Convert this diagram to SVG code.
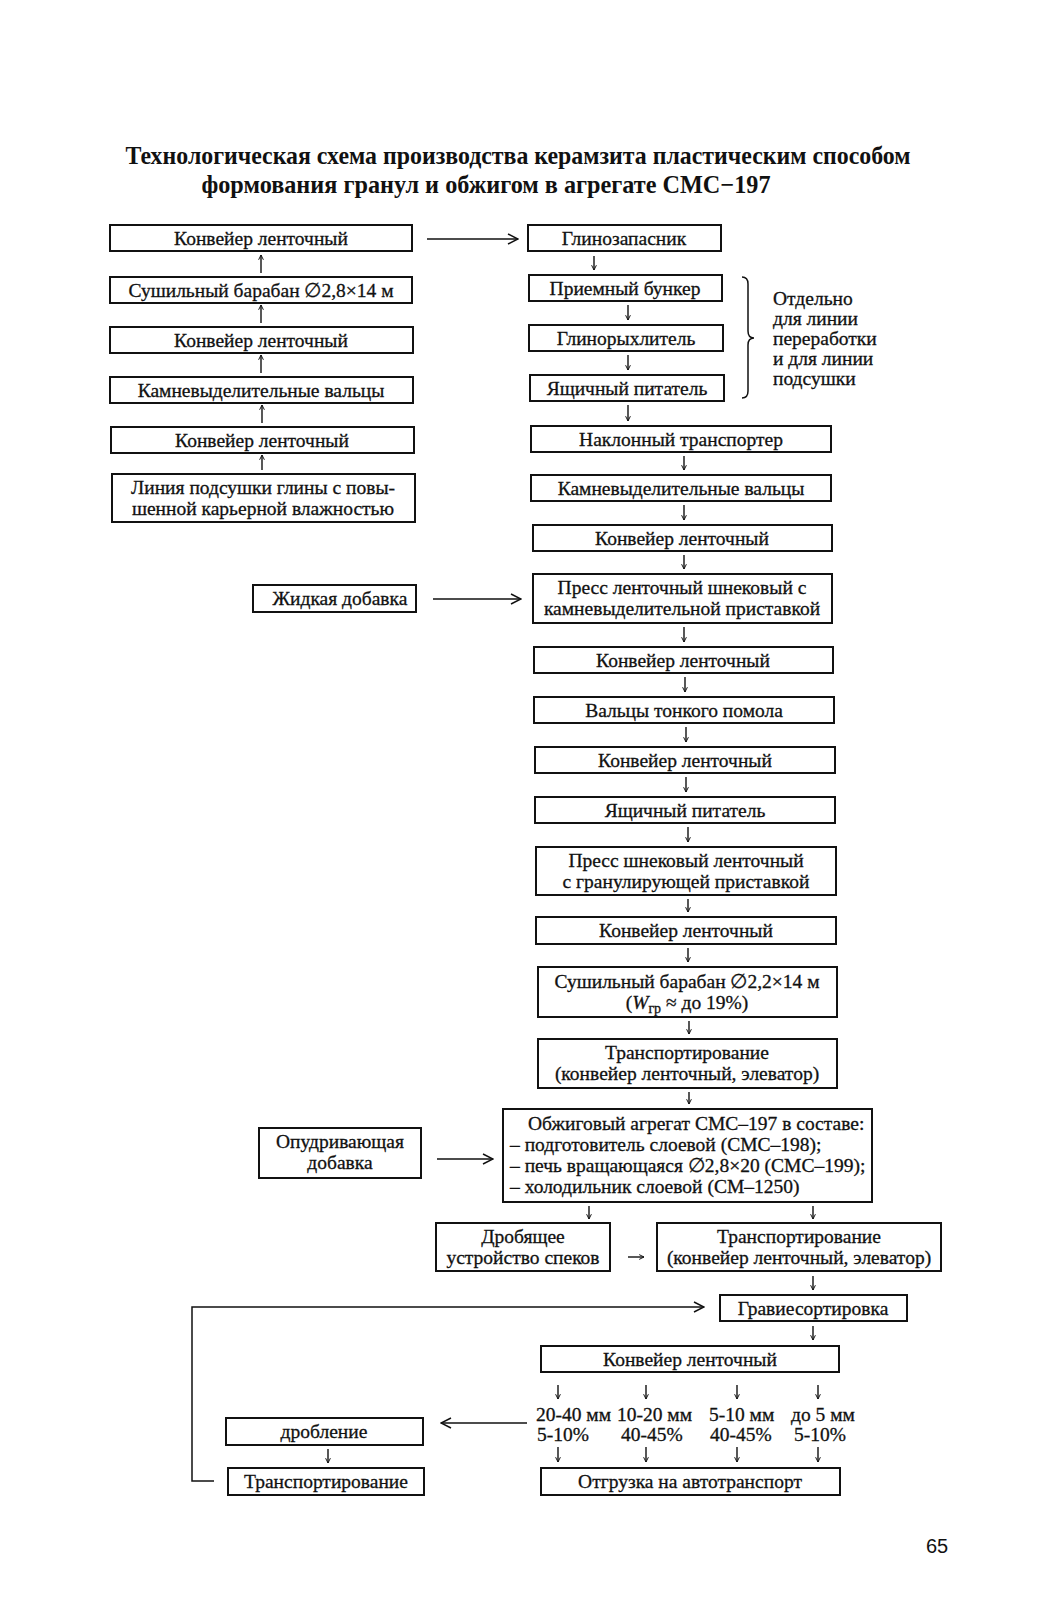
<svg xmlns="http://www.w3.org/2000/svg" width="1062" height="1600" viewBox="0 0 1062 1600">
<defs>
<style>
.b{fill:none;stroke:#111;stroke-width:2}
.t{font-family:"Liberation Serif","Times New Roman",serif;font-size:19.5px;fill:#111;stroke:#111;stroke-width:0.3;text-anchor:middle}
.l{font-family:"Liberation Serif","Times New Roman",serif;font-size:19.5px;fill:#111;stroke:#111;stroke-width:0.3}
.h{font-family:"Liberation Serif","Times New Roman",serif;font-size:25px;font-weight:bold;fill:#111;text-anchor:middle}
.c{fill:none;stroke:#111;stroke-width:1.5}
.s{fill:none;stroke:#111;stroke-width:1.4;marker-end:url(#sm)}
.a{fill:none;stroke:#111;stroke-width:1.5;marker-end:url(#lg)}
</style>
<marker id="sm" viewBox="0 0 10 10" refX="9" refY="5" markerWidth="6" markerHeight="6" markerUnits="userSpaceOnUse" orient="auto"><path d="M1,1 L9,5 L1,9" fill="none" stroke="#111" stroke-width="1.6"/></marker>
<marker id="lg" viewBox="0 0 12 12" refX="11" refY="6" markerWidth="12" markerHeight="12" markerUnits="userSpaceOnUse" orient="auto"><path d="M1,1 L11,6 L1,11" fill="none" stroke="#111" stroke-width="1.5"/></marker>
</defs>
<rect width="1062" height="1600" fill="#fff"/>
<g id="title">
<text class="h" x="518" y="164" textLength="785" lengthAdjust="spacingAndGlyphs">Технологическая схема производства керамзита пластическим способом</text>
<text class="h" x="486" y="193" textLength="569" lengthAdjust="spacingAndGlyphs">формования гранул и обжигом в агрегате СМС−197</text>
</g>
<g id="L1"><rect class="b" x="110" y="225" width="302" height="26"/><text class="t" x="261" y="245">Конвейер ленточный</text></g>
<g id="L2"><rect class="b" x="110" y="277" width="302" height="26"/><text class="t" x="261" y="297">Сушильный барабан ∅2,8×14 м</text></g>
<g id="L3"><rect class="b" x="110" y="327" width="303" height="26"/><text class="t" x="261" y="347">Конвейер ленточный</text></g>
<g id="L4"><rect class="b" x="110" y="377" width="303" height="26"/><text class="t" x="261" y="397">Камневыделительные вальцы</text></g>
<g id="L5"><rect class="b" x="111" y="427" width="303" height="26"/><text class="t" x="262" y="447">Конвейер ленточный</text></g>
<g id="L6"><rect class="b" x="112" y="474" width="303" height="48"/><text class="t" x="263" y="494">Линия подсушки глины с повы-</text><text class="t" x="263" y="515">шенной карьерной влажностью</text></g>
<g id="R1"><rect class="b" x="528" y="225" width="193" height="26"/><text class="t" x="624" y="245">Глинозапасник</text></g>
<g id="R2"><rect class="b" x="529" y="275" width="193" height="26"/><text class="t" x="625" y="295">Приемный бункер</text></g>
<g id="R3"><rect class="b" x="529" y="325" width="194" height="26"/><text class="t" x="626" y="345">Глинорыхлитель</text></g>
<g id="R4"><rect class="b" x="530" y="375" width="194" height="26"/><text class="t" x="627" y="395">Ящичный питатель</text></g>
<g id="brace"><path class="c" d="M742,277 Q748,277 748,284 L748,331 Q748,338 754,338 Q748,338 748,345 L748,391 Q748,398 742,398"/>
<text class="l" x="773" y="305">Отдельно</text><text class="l" x="773" y="325">для линии</text><text class="l" x="773" y="345">переработки</text><text class="l" x="773" y="365">и для линии</text><text class="l" x="773" y="385">подсушки</text></g>
<g id="R5"><rect class="b" x="531" y="426" width="300" height="26"/><text class="t" x="681" y="446">Наклонный транспортер</text></g>
<g id="R6"><rect class="b" x="531" y="475" width="300" height="26"/><text class="t" x="681" y="495">Камневыделительные вальцы</text></g>
<g id="R7"><rect class="b" x="533" y="525" width="299" height="26"/><text class="t" x="682" y="545">Конвейер ленточный</text></g>
<g id="ZH"><rect class="b" x="253" y="585" width="163" height="27"/><text class="t" x="340" y="605">Жидкая добавка</text></g>
<g id="R8"><rect class="b" x="533" y="574" width="299" height="49"/><text class="t" x="682" y="594">Пресс ленточный шнековый с</text><text class="t" x="682" y="615">камневыделительной приставкой</text></g>
<g id="R9"><rect class="b" x="534" y="647" width="299" height="26"/><text class="t" x="683" y="667">Конвейер ленточный</text></g>
<g id="R10"><rect class="b" x="534" y="697" width="300" height="26"/><text class="t" x="684" y="717">Вальцы тонкого помола</text></g>
<g id="R11"><rect class="b" x="535" y="747" width="300" height="26"/><text class="t" x="685" y="767">Конвейер ленточный</text></g>
<g id="R12"><rect class="b" x="535" y="797" width="300" height="26"/><text class="t" x="685" y="817">Ящичный питатель</text></g>
<g id="R13"><rect class="b" x="536" y="847" width="300" height="48"/><text class="t" x="686" y="867">Пресс шнековый ленточный</text><text class="t" x="686" y="888">с гранулирующей приставкой</text></g>
<g id="R14"><rect class="b" x="536" y="917" width="300" height="27"/><text class="t" x="686" y="937">Конвейер ленточный</text></g>
<g id="R15"><rect class="b" x="538" y="967" width="299" height="50"/><text class="t" x="687" y="988">Сушильный барабан ∅2,2×14 м</text><text class="t" x="687" y="1009">(<tspan font-style="italic">W</tspan><tspan font-size="14" dy="4">гр</tspan><tspan dy="-4"> ≈ до 19%)</tspan></text></g>
<g id="R16"><rect class="b" x="538" y="1039" width="299" height="49"/><text class="t" x="687" y="1059">Транспортирование</text><text class="t" x="687" y="1080">(конвейер ленточный, элеватор)</text></g>
<g id="OP"><rect class="b" x="259" y="1128" width="162" height="50"/><text class="t" x="340" y="1148">Опудривающая</text><text class="t" x="340" y="1169">добавка</text></g>
<g id="R17"><rect class="b" x="503" y="1109" width="369" height="93"/>
<text class="l" x="528" y="1130">Обжиговый агрегат СМС–197 в составе:</text>
<text class="l" x="510" y="1151">– подготовитель слоевой (СМС–198);</text>
<text class="l" x="510" y="1172">– печь вращающаяся ∅2,8×20 (СМС–199);</text>
<text class="l" x="510" y="1193">– холодильник слоевой (СМ–1250)</text></g>
<g id="DR"><rect class="b" x="436" y="1223" width="174" height="48"/><text class="t" x="523" y="1243">Дробящее</text><text class="t" x="523" y="1264">устройство спеков</text></g>
<g id="T2"><rect class="b" x="657" y="1223" width="284" height="48"/><text class="t" x="799" y="1243">Транспортирование</text><text class="t" x="799" y="1264">(конвейер ленточный, элеватор)</text></g>
<g id="GR"><rect class="b" x="720" y="1295" width="187" height="26"/><text class="t" x="813" y="1315">Гравиесортировка</text></g>
<g id="KF"><rect class="b" x="541" y="1346" width="298" height="26"/><text class="t" x="690" y="1366">Конвейер ленточный</text></g>
<g id="fr">
<text class="l" x="536" y="1421">20-40 мм</text><text class="l" x="617" y="1421">10-20 мм</text><text class="l" x="709" y="1421">5-10 мм</text><text class="l" x="791" y="1421">до 5 мм</text>
<text class="l" x="537" y="1441">5-10%</text><text class="l" x="621" y="1441">40-45%</text><text class="l" x="710" y="1441">40-45%</text><text class="l" x="794" y="1441">5-10%</text></g>
<g id="OT"><rect class="b" x="541" y="1468" width="299" height="27"/><text class="t" x="690" y="1488">Отгрузка на автотранспорт</text></g>
<g id="DB"><rect class="b" x="226" y="1418" width="197" height="27"/><text class="t" x="324" y="1438">дробление</text></g>
<g id="T3"><rect class="b" x="228" y="1468" width="196" height="27"/><text class="t" x="326" y="1488">Транспортирование</text></g>
<g id="pg"><text x="937" y="1553" font-family="Liberation Sans, Arial, sans-serif" font-size="20" fill="#111" text-anchor="middle">65</text></g>
<g id="connectors">
<path class="s" d="M261,273 V255"/><path class="s" d="M261,323 V305"/><path class="s" d="M261,373 V355"/><path class="s" d="M262,423 V405"/><path class="s" d="M262,470 V455"/>
<path class="a" d="M427,239 H518"/>
<path class="s" d="M594,256 V270"/><path class="s" d="M628,305 V320"/><path class="s" d="M628,355 V370"/><path class="s" d="M628,405 V421"/>
<path class="s" d="M684,456 V470"/><path class="s" d="M684,505 V520"/><path class="s" d="M684,555 V569"/><path class="s" d="M684,627 V642"/>
<path class="s" d="M685,677 V692"/><path class="s" d="M686,727 V742"/><path class="s" d="M686,777 V792"/><path class="s" d="M688,827 V842"/>
<path class="s" d="M688,899 V912"/><path class="s" d="M688,948 V962"/><path class="s" d="M689,1021 V1034"/><path class="s" d="M689,1092 V1104"/>
<path class="a" d="M433,599 H521"/>
<path class="a" d="M437,1159 H493"/>
<path class="s" d="M589,1206 V1219"/><path class="s" d="M813,1206 V1219"/>
<path class="s" d="M628,1257 H644"/>
<path class="s" d="M813,1276 V1290"/><path class="s" d="M813,1326 V1340"/>
<path class="s" d="M558,1385 V1399"/><path class="s" d="M646,1385 V1399"/><path class="s" d="M737,1385 V1399"/><path class="s" d="M818,1385 V1399"/>
<path class="s" d="M558,1447 V1462"/><path class="s" d="M646,1447 V1462"/><path class="s" d="M737,1447 V1462"/><path class="s" d="M818,1447 V1462"/>
<path class="a" d="M527,1423 H441"/>
<path class="s" d="M328,1449 V1463"/>
<path class="a" d="M214,1481 H192 V1307 H704"/>
</g>
</svg>
